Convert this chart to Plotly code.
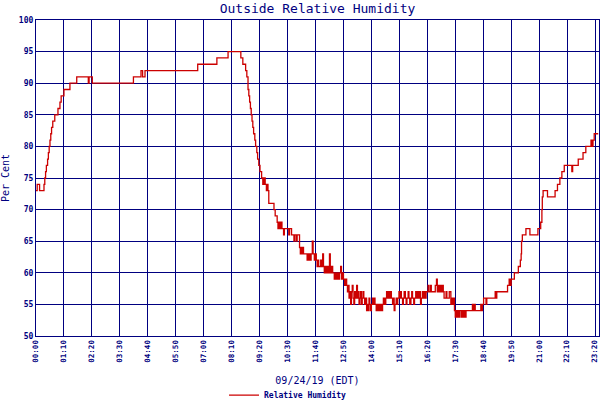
import plotly.graph_objects as go

# Time of day in minutes after midnight (09/24/19 EDT)
minutes = [
    0, 3, 9, 20, 22, 24, 26, 29, 31, 33, 35, 37, 39, 42, 47, 55, 60, 63, 70, 85,
    102, 131, 133, 141, 244, 263, 267, 273, 405, 453, 481, 513, 518, 525, 528, 531,
    533, 535, 537, 539, 541, 543, 545, 548, 550, 553, 555, 558, 561, 565, 568, 571,
    574, 577, 579, 581, 583, 596, 599, 604, 606, 608, 611, 613, 616, 620, 622, 633,
    635, 640, 646, 648, 652, 654, 660, 662, 664, 666, 668, 670, 679, 681, 683, 685,
    687, 689, 692, 694, 697, 699, 702, 704, 706, 708, 713, 716, 718, 720, 722, 725,
    728, 731, 733, 735, 737, 740, 743, 747, 749, 752, 754, 757, 760, 763, 765, 768,
    770, 773, 776, 778, 780, 782, 784, 786, 788, 790, 792, 794, 796, 798, 800, 803,
    805, 807, 809, 811, 813, 815, 817, 819, 821, 823, 825, 828, 830, 832, 834, 836,
    838, 840, 843, 845, 847, 849, 852, 854, 857, 859, 862, 864, 866, 868, 870, 873,
    876, 878, 881, 883, 885, 888, 890, 893, 895, 897, 899, 902, 904, 906, 909, 911,
    913, 915, 918, 920, 922, 925, 927, 929, 932, 934, 936, 939, 941, 943, 946, 948,
    951, 953, 955, 958, 961, 963, 965, 968, 970, 973, 975, 977, 982, 984, 988, 990,
    1000, 1003, 1005, 1008, 1010, 1013, 1016, 1018, 1020, 1022, 1027, 1029, 1035,
    1039, 1041, 1044, 1046, 1048, 1050, 1052, 1055, 1057, 1059, 1062, 1066, 1068,
    1070, 1072, 1074, 1077, 1093, 1095, 1097, 1100, 1114, 1116, 1118, 1121, 1127,
    1129, 1150, 1152, 1154, 1181, 1185, 1188, 1190, 1198, 1208, 1213, 1215, 1216,
    1218, 1227, 1237, 1257, 1264, 1267, 1268, 1270, 1281, 1300, 1306, 1312, 1317,
    1323, 1342, 1344, 1358, 1370, 1377, 1390, 1392, 1395, 1398, 1408,
]

# Outside relative humidity (%)
rh = [
    73, 74, 73, 74, 75, 76, 77, 78, 79, 80, 81, 82, 83, 84, 85, 86, 87, 88, 89, 90,
    91, 90, 91, 90, 91, 92, 91, 92, 93, 94, 95, 94, 93, 92, 91, 89,
    88, 87, 86, 85, 84, 83, 82, 81, 80, 79, 78, 77, 76, 75, 74, 75,
    74, 73, 74, 73, 71, 70, 69, 68, 67, 68, 67, 68, 67, 66, 67, 66,
    67, 66, 65, 66, 65, 66, 64, 63, 64, 63, 64, 63, 62, 63, 62, 63,
    62, 63, 65, 63, 62, 63, 62, 61, 62, 61, 62, 61, 63, 61, 60, 61,
    60, 61, 60, 63, 60, 61, 60, 59, 60, 59, 60, 59, 60, 61, 59, 60,
    59, 58, 59, 58, 57, 58, 56, 57, 55, 57, 58, 56, 55, 57, 56, 58,
    56, 57, 55, 56, 57, 55, 56, 57, 56, 55, 56, 54, 55, 54, 56, 55,
    54, 55, 56, 55, 56, 55, 54, 55, 54, 55, 54, 55, 54, 55, 56, 55,
    56, 57, 56, 57, 56, 57, 56, 55, 56, 54, 55, 56, 55, 56, 57, 56,
    57, 56, 55, 56, 57, 56, 55, 56, 57, 56, 55, 56, 57, 56, 55, 56,
    57, 56, 57, 56, 57, 55, 56, 57, 56, 57, 56, 57, 58, 57, 58, 57,
    58, 59, 57, 58, 57, 58, 57, 58, 57, 56, 57, 56, 57,
    55, 56, 55, 56, 54, 53, 54, 53, 54, 53, 54, 53, 54,
    53, 54, 53, 54, 55, 54, 55, 54, 55, 54, 55, 56, 55,
    56, 57, 56, 57, 58, 59, 58, 59, 60, 61, 62, 63, 65,
    66, 67, 66, 67, 68, 70, 72, 73, 72, 73, 74, 75, 76,
    77, 76, 77, 78, 79, 80, 81, 80, 81, 82, 82,
]

# X-axis tick positions (minutes) and labels
tick_minutes = [0, 70, 140, 210, 280, 350, 420, 490, 560, 630, 700, 770, 840,
                910, 980, 1050, 1120, 1190, 1260, 1330, 1400, 1410]
tick_labels = ["00:00", "01:10", "02:20", "03:30", "04:40", "05:50", "07:00",
               "08:10", "09:20", "10:30", "11:40", "12:50", "14:00", "15:10",
               "16:20", "17:30", "18:40", "19:50", "21:00", "22:10", "23:20",
               "23:30"]

NAVY = "#000080"
RED = "#cc0000"
MONO = "DejaVu Sans Mono"

fig = go.Figure()
fig.add_trace(go.Scatter(
    x=minutes, y=rh, mode="lines", line=dict(color=RED, width=1.3, shape="hv"),
    name="Relative Humidity",
))

fig.update_layout(
    width=600, height=400,
    margin=dict(l=36, r=1, t=20, b=64, autoexpand=False),
    paper_bgcolor="white", plot_bgcolor="white",
    title=dict(text="Outside Relative Humidity", x=0.5, xref="paper", xanchor="center",
               y=0.98, yref="container", yanchor="middle",
               font=dict(family=MONO, size=13, color=NAVY)),
    showlegend=True,
    legend=dict(orientation="h", x=0.334, xanchor="left", y=-0.187, yanchor="middle",
                font=dict(family=MONO, size=8, color=NAVY, weight="bold"),
                itemwidth=30, bgcolor="rgba(0,0,0,0)"),
)

fig.update_xaxes(
    range=[0, 1410], tickmode="array", tickvals=tick_minutes, ticktext=tick_labels,
    tickangle=-90, tickfont=dict(family=MONO, size=7.5, color=NAVY, weight="bold"),
    showgrid=True, gridcolor=NAVY, gridwidth=1.2, zeroline=False,
    showline=True, linecolor=NAVY, linewidth=1.2, mirror=True, ticks="",
    automargin=False,
    title=dict(text="09/24/19 (EDT)", font=dict(family=MONO, size=10, color=NAVY)),
)
fig.update_yaxes(
    range=[50, 100], tick0=50, dtick=5,
    tickfont=dict(family=MONO, size=8, color=NAVY, weight="bold"),
    showgrid=True, gridcolor=NAVY, gridwidth=1.2, zeroline=False,
    showline=True, linecolor=NAVY, linewidth=1.2, mirror=True, ticks="",
    automargin=False,
    title=dict(text="Per Cent", font=dict(family=MONO, size=10, color=NAVY)),
)

fig.write_html("out.html", config={"displayModeBar": False},
               post_script="document.body.style.margin='0';")
